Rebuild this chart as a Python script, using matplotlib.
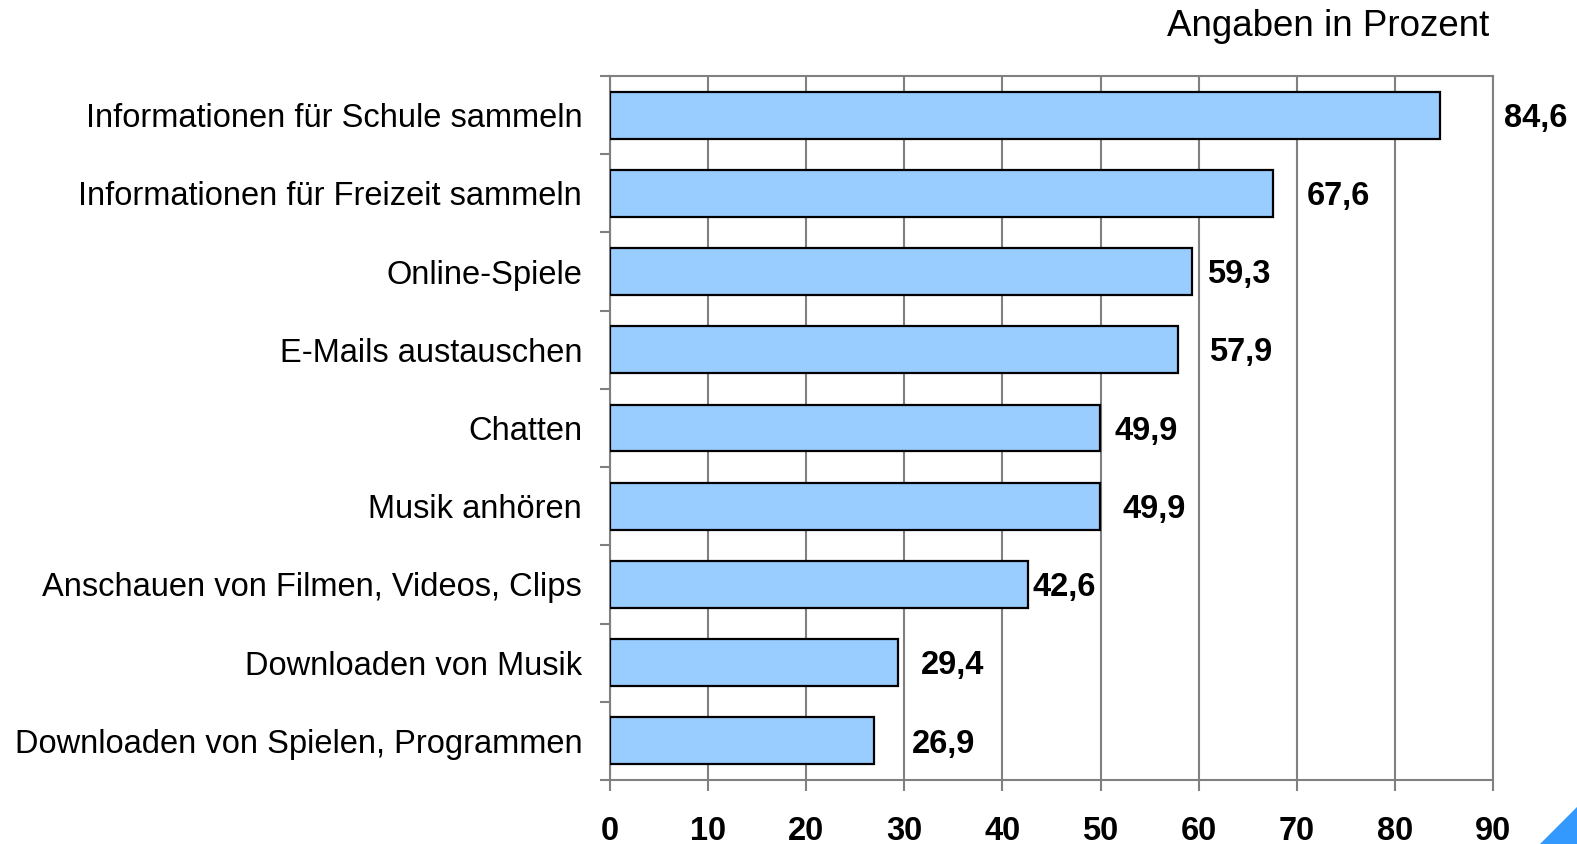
import matplotlib
matplotlib.use("Agg")
import matplotlib.pyplot as plt
from matplotlib.patches import Polygon
from matplotlib.ticker import FixedLocator, NullFormatter

plt.rcParams["font.family"] = ["Liberation Sans", "DejaVu Sans"]

categories = [
    "Informationen für Schule sammeln",
    "Informationen für Freizeit sammeln",
    "Online-Spiele",
    "E-Mails austauschen",
    "Chatten",
    "Musik anhören",
    "Anschauen von Filmen, Videos, Clips",
    "Downloaden von Musik",
    "Downloaden von Spielen, Programmen",
]
values = [84.6, 67.6, 59.3, 57.9, 49.9, 49.9, 42.6, 29.4, 26.9]
value_labels = ["84,6", "67,6", "59,3", "57,9", "49,9", "49,9", "42,6", "29,4", "26,9"]
x_ticks = [0, 10, 20, 30, 40, 50, 60, 70, 80, 90]

# gap between bar end and its label, in data units (as in the original layout)
label_pad = [6.5, 3.4, 1.6, 3.2, 1.5, 2.3, 0.5, 2.3, 3.9]

GRAY = "#808080"
FS = 23.5

fig = plt.figure(figsize=(15.77, 8.44), dpi=100)
ax = fig.add_axes([0.3868, 0.0758, 0.9467 - 0.3868, 0.910 - 0.0758])

n = len(categories)
ypos = list(range(n))
ax.barh(ypos, values, height=0.6, color="#99CCFF", edgecolor="black",
        linewidth=1.6, zorder=3)

ax.set_xlim(0, 90)
ax.set_ylim(n - 0.5, -0.5)
ax.set_xticks(x_ticks)
ax.set_xticklabels([str(t) for t in x_ticks], fontsize=FS, fontweight="bold")
ax.xaxis.grid(True, color=GRAY, linewidth=1.5, zorder=0)
ax.set_axisbelow(True)

ax.set_yticks(ypos)
ax.set_yticklabels(categories, fontsize=FS)
ax.yaxis.set_minor_locator(FixedLocator([i - 0.5 for i in range(n + 1)]))
ax.yaxis.set_minor_formatter(NullFormatter())
ax.tick_params(axis="y", which="major", length=0, pad=20)
ax.tick_params(axis="y", which="minor", length=7, width=1.5, color=GRAY, direction="out")
ax.tick_params(axis="x", length=8, width=1.5, color=GRAY, direction="out", pad=18)

for sp in ax.spines.values():
    sp.set_color(GRAY)
    sp.set_linewidth(1.5)

for y, v, lab, pad in zip(ypos, values, value_labels, label_pad):
    ax.text(v + pad, y + 0.04, lab, fontsize=FS, fontweight="bold",
            va="center", ha="left", clip_on=False)

fig.text(1489 / 1577, 1 - 26 / 844, "Angaben in Prozent", fontsize=26.5,
         ha="right", va="center")

tri = Polygon([(1540 / 1577, 0), (1, 0), (1, 1 - 807 / 844)], closed=True,
              transform=fig.transFigure, facecolor="#3399FF", edgecolor="none")
fig.patches.append(tri)

fig.savefig("out.png", dpi=100)
